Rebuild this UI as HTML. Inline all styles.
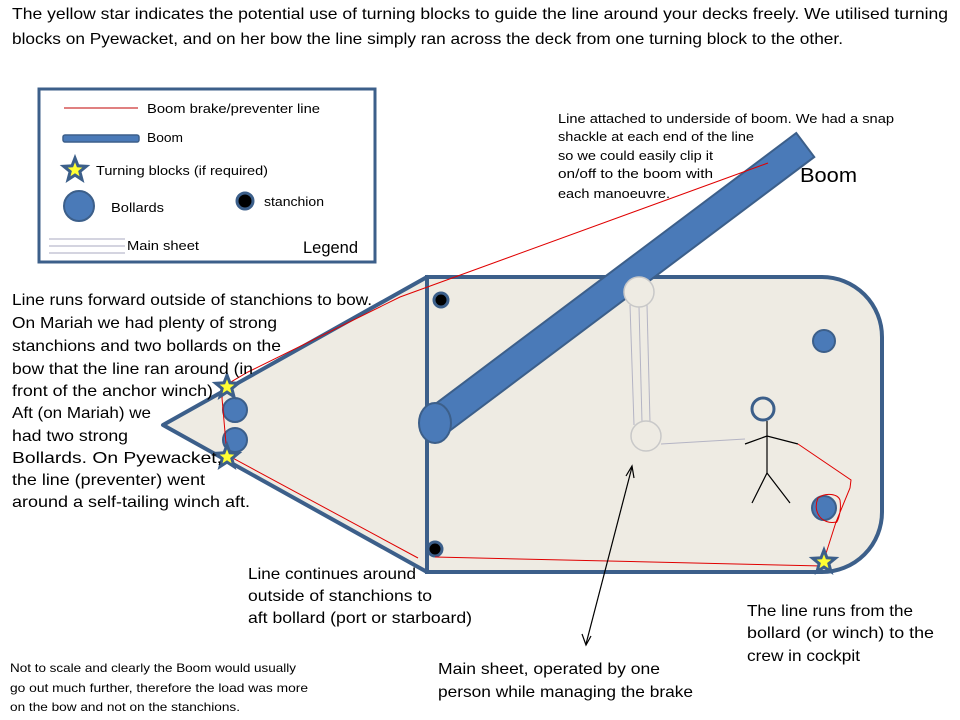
<!DOCTYPE html>
<html><head><meta charset="utf-8"><style>
html,body{margin:0;padding:0;background:#fff;}
svg{display:block;font-family:"Liberation Sans Narrow","Liberation Sans",sans-serif;}
</style></head><body>
<svg width="960" height="720" viewBox="0 0 960 720" xmlns="http://www.w3.org/2000/svg">
<defs>
<g id="st"><polygon transform="scale(1.15)" points="0,-14 3.5,-4.9 13.3,-4.3 5.7,1.9 8.2,11.3 0,6 -8.2,11.3 -5.7,1.9 -13.3,-4.3 -3.5,-4.9" fill="#3c5f8a"/><polygon transform="scale(0.55)" points="0,-14 3.5,-4.9 13.3,-4.3 5.7,1.9 8.2,11.3 0,6 -8.2,11.3 -5.7,1.9 -13.3,-4.3 -3.5,-4.9" fill="#ffff33"/></g>
</defs>
<rect width="960" height="720" fill="#fff"/>
<g font-size="16" fill="#000">
<text x="12" y="19" textLength="936" lengthAdjust="spacingAndGlyphs">The yellow star indicates  the potential use of turning blocks to guide the line around your decks freely. We utilised turning</text>
<text x="12" y="44" textLength="831" lengthAdjust="spacingAndGlyphs">blocks on Pyewacket, and on her bow  the line simply ran across  the deck from one turning block to the other.</text>
</g>
<rect x="39" y="89" width="336" height="173" fill="#fff" stroke="#3c5f8a" stroke-width="3"/>
<line x1="64" y1="108" x2="138" y2="108" stroke="#c00000" stroke-width="1"/>
<rect x="63" y="135" width="76" height="7" rx="2" fill="#4a7ab8" stroke="#3c5f8a" stroke-width="1.5"/>
<use href="#st" x="75" y="170"/>
<circle cx="79" cy="206" r="15" fill="#4a7ab8" stroke="#3c5f8a" stroke-width="2"/>
<circle cx="245" cy="201" r="8" fill="#000" stroke="#3c5f8a" stroke-width="3"/>
<g stroke="#a8a8c0" stroke-width="1"><line x1="49" y1="239" x2="125" y2="239"/><line x1="49" y1="246" x2="125" y2="246"/><line x1="49" y1="253" x2="125" y2="253"/></g>
<g font-size="13" fill="#000">
<text x="147" y="113" textLength="173" lengthAdjust="spacingAndGlyphs">Boom brake/preventer line</text>
<text x="147" y="142" textLength="36" lengthAdjust="spacingAndGlyphs">Boom</text>
<text x="96" y="175" textLength="172" lengthAdjust="spacingAndGlyphs">Turning blocks (if required)</text>
<text x="111" y="212" textLength="53" lengthAdjust="spacingAndGlyphs">Bollards</text>
<text x="264" y="206" textLength="60" lengthAdjust="spacingAndGlyphs">stanchion</text>
<text x="127" y="250" textLength="72" lengthAdjust="spacingAndGlyphs">Main sheet</text>
</g>
<text x="303" y="253" font-size="17" textLength="55" lengthAdjust="spacingAndGlyphs">Legend</text>
<polygon points="163,425 427,277 427,572" fill="#eeebe3" stroke="#3c5f8a" stroke-width="4" stroke-linejoin="round"/>
<path d="M427,277 H822 A60,60 0 0 1 882,337 V512 A60,60 0 0 1 822,572 H427 Z" fill="#eeebe3" stroke="#3c5f8a" stroke-width="4"/>
<circle cx="441" cy="300" r="7" fill="#000" stroke="#3c5f8a" stroke-width="3"/>
<circle cx="435" cy="549" r="7" fill="#000" stroke="#3c5f8a" stroke-width="3"/>
<g fill="#4a7ab8" stroke="#3c5f8a" stroke-width="2">
<circle cx="235" cy="410" r="12"/><circle cx="235" cy="440" r="12"/>
<circle cx="824" cy="341" r="11"/><circle cx="824" cy="508" r="12"/>
</g>
<g stroke="#b4b4c4" stroke-width="1" fill="none">
<line x1="630" y1="305" x2="634" y2="425"/><line x1="639" y1="307" x2="642" y2="422"/><line x1="647" y1="305" x2="650" y2="422"/>
<line x1="661" y1="444" x2="745" y2="439"/>
</g>
<circle cx="646" cy="436" r="15" fill="#eeebe3" stroke="#c8c8c8" stroke-width="1.5"/>
<g transform="translate(435,423) rotate(-36.9)">
<rect x="0" y="-15" width="463" height="30" fill="#4a7ab8" stroke="#3c5f8a" stroke-width="2"/>
</g>
<ellipse cx="435" cy="423" rx="16" ry="20" fill="#4a7ab8" stroke="#3c5f8a" stroke-width="2"/>
<circle cx="639" cy="292" r="15" fill="#eeebe3" stroke="#c8c8c8" stroke-width="1.5"/>
<circle cx="763" cy="409" r="11" fill="#eeebe3" stroke="#3c5f8a" stroke-width="3"/>
<g stroke="#000" stroke-width="1.2" fill="none">
<line x1="767" y1="421" x2="767" y2="473"/>
<polyline points="745,444 767,436 798,444"/>
<polyline points="752,503 767,473 790,503"/>
</g>
<path d="M768,163 L400,297 L248,372 L224,386 L222,398 L227,455 L418,558 M435,557 L822,566 L836,522 L850,488 L851,480 L798,444 M836,522 C822,525 812,512 818,498 C826,492 838,494 840,500 C842,514 836,525 836,522" fill="none" stroke="#e00000" stroke-width="1"/>
<use href="#st" x="227" y="387"/>
<use href="#st" x="227" y="457"/>
<use href="#st" x="824" y="562"/>
<g stroke="#000" stroke-width="1.2" fill="none">
<line x1="586" y1="644" x2="632" y2="467"/>
<polyline points="626,476 632,466 634,478"/>
<polyline points="582,634 586,645 591,636"/>
</g>
<g font-size="16" fill="#000">
<text x="12" y="305" textLength="360" lengthAdjust="spacingAndGlyphs">Line runs forward outside of stanchions to bow.</text>
<text x="12" y="328" textLength="265" lengthAdjust="spacingAndGlyphs">On Mariah we had plenty of strong</text>
<text x="12" y="351" textLength="269" lengthAdjust="spacingAndGlyphs">stanchions and two bollards  on the</text>
<text x="12" y="374" textLength="241" lengthAdjust="spacingAndGlyphs">bow that the line ran around (in</text>
<text x="12" y="396" textLength="201" lengthAdjust="spacingAndGlyphs">front of the anchor winch)</text>
<text x="12" y="418" textLength="139" lengthAdjust="spacingAndGlyphs">Aft (on Mariah) we</text>
<text x="12" y="441" textLength="116" lengthAdjust="spacingAndGlyphs">had two strong</text>
<text x="12" y="463" textLength="210" lengthAdjust="spacingAndGlyphs">Bollards. On Pyewacket,</text>
<text x="12" y="485" textLength="193" lengthAdjust="spacingAndGlyphs">the line (preventer) went</text>
<text x="12" y="507" textLength="238" lengthAdjust="spacingAndGlyphs">around  a  self-tailing winch aft.</text>
<text x="248" y="579" textLength="168" lengthAdjust="spacingAndGlyphs">Line continues around</text>
<text x="248" y="601" textLength="184" lengthAdjust="spacingAndGlyphs">outside of stanchions to</text>
<text x="248" y="623" textLength="224" lengthAdjust="spacingAndGlyphs">aft bollard (port or starboard)</text>
<text x="747" y="616" textLength="166" lengthAdjust="spacingAndGlyphs">The line runs from the</text>
<text x="747" y="638" textLength="187" lengthAdjust="spacingAndGlyphs">bollard (or winch)  to the</text>
<text x="747" y="661" textLength="113" lengthAdjust="spacingAndGlyphs">crew in cockpit</text>
<text x="438" y="674" textLength="222" lengthAdjust="spacingAndGlyphs">Main sheet,  operated by one</text>
<text x="438" y="697" textLength="255" lengthAdjust="spacingAndGlyphs">person  while managing the brake</text>
</g>
<g font-size="12" fill="#000">
<text x="10" y="672" textLength="286" lengthAdjust="spacingAndGlyphs">Not to scale and clearly the Boom would usually</text>
<text x="10" y="692" textLength="298" lengthAdjust="spacingAndGlyphs">go out much further, therefore the load was more</text>
<text x="10" y="711" textLength="230" lengthAdjust="spacingAndGlyphs">on the bow and not on the stanchions.</text>
</g>
<g font-size="13" fill="#000">
<text x="558" y="123" textLength="336" lengthAdjust="spacingAndGlyphs">Line attached to underside of boom.  We had a snap</text>
<text x="558" y="141" textLength="196" lengthAdjust="spacingAndGlyphs">shackle at each end of the line</text>
<text x="558" y="160" textLength="155" lengthAdjust="spacingAndGlyphs">so we could easily clip it</text>
<text x="558" y="178" textLength="155" lengthAdjust="spacingAndGlyphs">on/off to the boom with</text>
<text x="558" y="198" textLength="112" lengthAdjust="spacingAndGlyphs">each manoeuvre.</text>
</g>
<text x="800" y="182" font-size="20" textLength="57" lengthAdjust="spacingAndGlyphs">Boom</text>
</svg>
</body></html>
